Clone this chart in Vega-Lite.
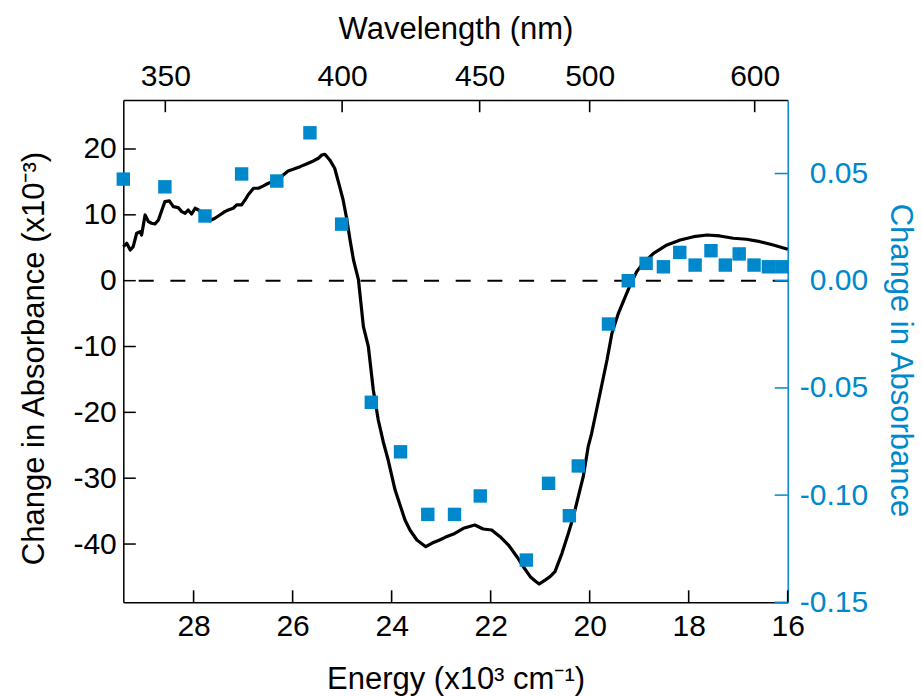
{
  "$schema": "https://vega.github.io/schema/vega-lite/v6.json",
  "width": 664.4,
  "height": 502.3,
  "autosize": {"type": "none"},
  "padding": {"left": 123.3, "top": 100, "right": 134.3, "bottom": 93.7},
  "background": "white",
  "config": {
    "view": {"stroke": null},
    "font": "Liberation Sans",
    "axis": {
      "labelFont": "Liberation Sans",
      "titleFont": "Liberation Sans",
      "labelFontSize": 30,
      "titleFontSize": 31,
      "titleFontWeight": "normal",
      "grid": false,
      "ticks": false,
      "domainWidth": 1.5,
      "labelColor": "black",
      "titleColor": "black",
      "domainColor": "black",
      "labelFlush": false,
      "labelOverlap": false
    }
  },
  "datasets": {
    "spectrum": [
      {"E": 29.42, "dA": 5.16}, {"E": 29.35, "dA": 5.68}, {"E": 29.28, "dA": 4.66}, {"E": 29.22, "dA": 5.16},
      {"E": 29.15, "dA": 7.2}, {"E": 29.08, "dA": 7.44}, {"E": 29.05, "dA": 6.94}, {"E": 28.98, "dA": 9.98},
      {"E": 28.91, "dA": 8.96}, {"E": 28.85, "dA": 8.72}, {"E": 28.78, "dA": 8.61}, {"E": 28.71, "dA": 9.22},
      {"E": 28.64, "dA": 10.74}, {"E": 28.58, "dA": 12.0}, {"E": 28.49, "dA": 12.11}, {"E": 28.41, "dA": 11.24},
      {"E": 28.31, "dA": 11.09}, {"E": 28.24, "dA": 10.48}, {"E": 28.17, "dA": 10.24}, {"E": 28.11, "dA": 10.74},
      {"E": 28.04, "dA": 10.13}, {"E": 27.97, "dA": 11.0}, {"E": 27.9, "dA": 10.74}, {"E": 27.8, "dA": 9.98},
      {"E": 27.67, "dA": 9.11}, {"E": 27.57, "dA": 9.48}, {"E": 27.47, "dA": 9.98}, {"E": 27.37, "dA": 10.48},
      {"E": 27.3, "dA": 10.74}, {"E": 27.2, "dA": 11.0}, {"E": 27.13, "dA": 11.5}, {"E": 27.03, "dA": 11.5},
      {"E": 26.96, "dA": 12.26}, {"E": 26.9, "dA": 13.02}, {"E": 26.79, "dA": 14.04}, {"E": 26.69, "dA": 14.04},
      {"E": 26.59, "dA": 14.39}, {"E": 26.49, "dA": 14.8}, {"E": 26.39, "dA": 15.04}, {"E": 26.29, "dA": 15.3},
      {"E": 26.19, "dA": 16.06}, {"E": 26.09, "dA": 16.66}, {"E": 25.99, "dA": 16.92}, {"E": 25.85, "dA": 17.32},
      {"E": 25.72, "dA": 17.73}, {"E": 25.58, "dA": 18.18}, {"E": 25.48, "dA": 18.59}, {"E": 25.41, "dA": 19.09},
      {"E": 25.35, "dA": 19.2}, {"E": 25.31, "dA": 18.87}, {"E": 25.25, "dA": 18.34}, {"E": 25.15, "dA": 17.07},
      {"E": 25.05, "dA": 14.28}, {"E": 24.98, "dA": 12.26}, {"E": 24.91, "dA": 9.52}, {"E": 24.84, "dA": 6.18},
      {"E": 24.77, "dA": 3.14}, {"E": 24.67, "dA": 0.11}, {"E": 24.57, "dA": -6.99}, {"E": 24.47, "dA": -10.03},
      {"E": 24.37, "dA": -16.6}, {"E": 24.27, "dA": -21.16}, {"E": 24.17, "dA": -24.46}, {"E": 24.07, "dA": -27.24},
      {"E": 23.93, "dA": -31.8}, {"E": 23.83, "dA": -34.07}, {"E": 23.73, "dA": -36.35}, {"E": 23.63, "dA": -37.87},
      {"E": 23.49, "dA": -39.39}, {"E": 23.31, "dA": -40.41}, {"E": 23.18, "dA": -39.85}, {"E": 23.03, "dA": -39.39},
      {"E": 22.92, "dA": -38.98}, {"E": 22.75, "dA": -38.48}, {"E": 22.55, "dA": -37.61}, {"E": 22.32, "dA": -37.11},
      {"E": 22.15, "dA": -37.72}, {"E": 21.98, "dA": -37.87}, {"E": 21.81, "dA": -38.89}, {"E": 21.64, "dA": -40.15},
      {"E": 21.47, "dA": -41.93}, {"E": 21.34, "dA": -43.45}, {"E": 21.2, "dA": -44.96}, {"E": 21.1, "dA": -45.62},
      {"E": 21.02, "dA": -46.07}, {"E": 20.9, "dA": -45.47}, {"E": 20.8, "dA": -44.96}, {"E": 20.7, "dA": -44.2},
      {"E": 20.56, "dA": -41.41}, {"E": 20.43, "dA": -38.37}, {"E": 20.33, "dA": -35.85}, {"E": 20.23, "dA": -32.81},
      {"E": 20.13, "dA": -29.77}, {"E": 20.03, "dA": -25.22}, {"E": 19.96, "dA": -23.18}, {"E": 19.79, "dA": -17.1},
      {"E": 19.65, "dA": -12.05}, {"E": 19.55, "dA": -7.99}, {"E": 19.42, "dA": -4.95}, {"E": 19.28, "dA": -2.43},
      {"E": 19.18, "dA": -0.65}, {"E": 19.05, "dA": 1.37}, {"E": 18.92, "dA": 2.64}, {"E": 18.71, "dA": 4.16},
      {"E": 18.44, "dA": 5.42}, {"E": 18.17, "dA": 6.18}, {"E": 17.9, "dA": 6.68}, {"E": 17.63, "dA": 6.94},
      {"E": 17.37, "dA": 6.79}, {"E": 17.1, "dA": 6.44}, {"E": 16.83, "dA": 6.29}, {"E": 16.56, "dA": 5.92},
      {"E": 16.29, "dA": 5.42}, {"E": 16.0, "dA": 4.77}
    ],
    "points": [
      {"E": 29.42, "dA": 0.0474}, {"E": 28.58, "dA": 0.0438}, {"E": 27.77, "dA": 0.0302}, {"E": 27.03, "dA": 0.0498},
      {"E": 26.32, "dA": 0.0465}, {"E": 25.65, "dA": 0.069}, {"E": 25.01, "dA": 0.0264}, {"E": 24.41, "dA": -0.0567},
      {"E": 23.82, "dA": -0.0798}, {"E": 23.27, "dA": -0.109}, {"E": 22.73, "dA": -0.109}, {"E": 22.21, "dA": -0.1004},
      {"E": 21.28, "dA": -0.1303}, {"E": 20.83, "dA": -0.0945}, {"E": 20.41, "dA": -0.1096}, {"E": 20.23, "dA": -0.0864},
      {"E": 19.62, "dA": -0.0202}, {"E": 19.22, "dA": 0.0}, {"E": 18.86, "dA": 0.0081}, {"E": 18.51, "dA": 0.0065},
      {"E": 18.18, "dA": 0.0132}, {"E": 17.87, "dA": 0.0073}, {"E": 17.55, "dA": 0.014}, {"E": 17.26, "dA": 0.0073},
      {"E": 16.98, "dA": 0.0125}, {"E": 16.68, "dA": 0.0073}, {"E": 16.39, "dA": 0.0065}, {"E": 16.12, "dA": 0.0065}
    ],
    "energyTicks": [{"E": 28}, {"E": 26}, {"E": 24}, {"E": 22}, {"E": 20}, {"E": 18}, {"E": 16}],
    "leftTicks": [{"dA": -40}, {"dA": -30}, {"dA": -20}, {"dA": -10}, {"dA": 0}, {"dA": 10}, {"dA": 20}],
    "wavelengthTicks": [{"nm": 350, "E": 28.5714}, {"nm": 400, "E": 25}, {"nm": 450, "E": 22.2222}, {"nm": 500, "E": 20}, {"nm": 600, "E": 16.6667}],
    "rightTicks": [{"dA": -0.15}, {"dA": -0.1}, {"dA": -0.05}, {"dA": 0}, {"dA": 0.05}]
  },
  "layer": [
    {
      "layer": [
        {
          "data": {"values": [{"baseline": 0}]},
          "mark": {"type": "rule", "color": "black", "strokeWidth": 2, "strokeDash": [15, 16.7]},
          "encoding": {
            "y": {
              "field": "baseline", "type": "quantitative",
              "scale": {"domain": [-48.85, 27.44], "nice": false, "zero": false},
              "axis": {
                "orient": "left",
                "values": [-40, -30, -20, -10, 0, 10, 20],
                "labelExpr": "(datum.value < 0 ? '-' : '') + format(abs(datum.value), 'd')",
                "labelPadding": 7,
                "title": "Change in Absorbance (x10⁻³)",
                "titleAngle": -90,
                "titleX": -80,
                "titleY": 258,
                "titleBaseline": "alphabetic"
              }
            }
          }
        },
        {
          "data": {"name": "spectrum"},
          "mark": {"type": "line", "color": "black", "strokeWidth": 3.2, "strokeJoin": "round", "interpolate": "linear"},
          "encoding": {
            "x": {
              "field": "E", "type": "quantitative",
              "scale": {"domain": [16, 29.42], "reverse": true, "nice": false, "zero": false},
              "axis": {
                "orient": "bottom",
                "values": [28, 26, 24, 22, 20, 18, 16],
                "labelPadding": 9,
                "title": "Energy (x10³ cm⁻¹)",
                "titleY": 86,
                "titleBaseline": "alphabetic"
              }
            },
            "y": {
              "field": "dA", "type": "quantitative",
              "scale": {"domain": [-48.85, 27.44], "nice": false, "zero": false},
              "axis": {
                "orient": "left",
                "values": [-40, -30, -20, -10, 0, 10, 20],
                "labelExpr": "(datum.value < 0 ? '-' : '') + format(abs(datum.value), 'd')",
                "labelPadding": 7,
                "title": "Change in Absorbance (x10⁻³)",
                "titleAngle": -90,
                "titleX": -80,
                "titleY": 258,
                "titleBaseline": "alphabetic"
              }
            }
          }
        },
        {
          "data": {"name": "energyTicks"},
          "mark": {"type": "rule", "strokeWidth": 1.6, "color": "black"},
          "encoding": {
            "x": {
              "field": "E", "type": "quantitative",
              "scale": {"domain": [16, 29.42], "reverse": true, "nice": false, "zero": false},
              "axis": {
                "orient": "bottom",
                "values": [28, 26, 24, 22, 20, 18, 16],
                "labelPadding": 9,
                "title": "Energy (x10³ cm⁻¹)",
                "titleY": 86,
                "titleBaseline": "alphabetic"
              }
            },
            "y": {
              "datum": -48.85, "type": "quantitative",
              "scale": {"domain": [-48.85, 27.44], "nice": false, "zero": false},
              "axis": {
                "orient": "left",
                "values": [-40, -30, -20, -10, 0, 10, 20],
                "labelExpr": "(datum.value < 0 ? '-' : '') + format(abs(datum.value), 'd')",
                "labelPadding": 7,
                "title": "Change in Absorbance (x10⁻³)",
                "titleAngle": -90,
                "titleX": -80,
                "titleY": 258,
                "titleBaseline": "alphabetic"
              }
            },
            "y2": {"datum": -47.03}
          }
        },
        {
          "data": {"name": "leftTicks"},
          "mark": {"type": "tick", "orient": "horizontal", "size": 12.5, "thickness": 1.5, "color": "black", "opacity": 1, "xOffset": 6.25},
          "encoding": {
            "x": {
              "datum": 29.42, "type": "quantitative",
              "scale": {"domain": [16, 29.42], "reverse": true, "nice": false, "zero": false},
              "axis": {
                "orient": "bottom",
                "values": [28, 26, 24, 22, 20, 18, 16],
                "labelPadding": 9,
                "title": "Energy (x10³ cm⁻¹)",
                "titleY": 86,
                "titleBaseline": "alphabetic"
              }
            },
            "y": {
              "field": "dA", "type": "quantitative",
              "scale": {"domain": [-48.85, 27.44], "nice": false, "zero": false},
              "axis": {
                "orient": "left",
                "values": [-40, -30, -20, -10, 0, 10, 20],
                "labelExpr": "(datum.value < 0 ? '-' : '') + format(abs(datum.value), 'd')",
                "labelPadding": 7,
                "title": "Change in Absorbance (x10⁻³)",
                "titleAngle": -90,
                "titleX": -80,
                "titleY": 258,
                "titleBaseline": "alphabetic"
              }
            }
          }
        }
      ]
    },
    {
      "layer": [
        {
          "data": {"name": "points"},
          "mark": {"type": "square", "size": 180, "color": "#0088cc", "opacity": 1, "filled": true},
          "encoding": {
            "x": {
              "field": "E", "type": "quantitative",
              "scale": {"domain": [16, 29.42], "reverse": true, "nice": false, "zero": false},
              "axis": {
                "orient": "top",
                "values": [28.5714, 25, 22.2222, 20, 16.6667],
                "labelExpr": "format(10000 / datum.value, '.0f')",
                "labelPadding": 9,
                "title": "Wavelength (nm)",
                "titleY": -62,
                "titleBaseline": "alphabetic"
              }
            },
            "y": {
              "field": "dA", "type": "quantitative",
              "scale": {"domain": [-0.15, 0.0843], "nice": false, "zero": false},
              "axis": {
                "orient": "right",
                "values": [-0.15, -0.1, -0.05, 0, 0.05],
                "labelExpr": "(datum.value < 0 ? '-' : '') + format(abs(datum.value), '.2f')",
                "labelAlign": "right",
                "labelPadding": 80,
                "labelColor": "#0088cc",
                "domainColor": "#0088cc",
                "titleColor": "#0088cc",
                "title": "Change in Absorbance",
                "titleAngle": 90,
                "titleX": 103,
                "titleY": 260,
                "titleBaseline": "alphabetic"
              }
            }
          }
        },
        {
          "data": {"name": "wavelengthTicks"},
          "mark": {"type": "rule", "strokeWidth": 1.6, "color": "black"},
          "encoding": {
            "x": {
              "field": "E", "type": "quantitative",
              "scale": {"domain": [16, 29.42], "reverse": true, "nice": false, "zero": false},
              "axis": {
                "orient": "top",
                "values": [28.5714, 25, 22.2222, 20, 16.6667],
                "labelExpr": "format(10000 / datum.value, '.0f')",
                "labelPadding": 9,
                "title": "Wavelength (nm)",
                "titleY": -62,
                "titleBaseline": "alphabetic"
              }
            },
            "y": {
              "datum": 0.0843, "type": "quantitative",
              "scale": {"domain": [-0.15, 0.0843], "nice": false, "zero": false},
              "axis": {
                "orient": "right",
                "values": [-0.15, -0.1, -0.05, 0, 0.05],
                "labelExpr": "(datum.value < 0 ? '-' : '') + format(abs(datum.value), '.2f')",
                "labelAlign": "right",
                "labelPadding": 80,
                "labelColor": "#0088cc",
                "domainColor": "#0088cc",
                "titleColor": "#0088cc",
                "title": "Change in Absorbance",
                "titleAngle": 90,
                "titleX": 103,
                "titleY": 260,
                "titleBaseline": "alphabetic"
              }
            },
            "y2": {"datum": 0.0786}
          }
        },
        {
          "data": {"name": "rightTicks"},
          "mark": {"type": "tick", "orient": "horizontal", "size": 13, "thickness": 1.5, "color": "#0088cc", "opacity": 1, "xOffset": -6.5},
          "encoding": {
            "x": {
              "datum": 16, "type": "quantitative",
              "scale": {"domain": [16, 29.42], "reverse": true, "nice": false, "zero": false},
              "axis": {
                "orient": "top",
                "values": [28.5714, 25, 22.2222, 20, 16.6667],
                "labelExpr": "format(10000 / datum.value, '.0f')",
                "labelPadding": 9,
                "title": "Wavelength (nm)",
                "titleY": -62,
                "titleBaseline": "alphabetic"
              }
            },
            "y": {
              "field": "dA", "type": "quantitative",
              "scale": {"domain": [-0.15, 0.0843], "nice": false, "zero": false},
              "axis": {
                "orient": "right",
                "values": [-0.15, -0.1, -0.05, 0, 0.05],
                "labelExpr": "(datum.value < 0 ? '-' : '') + format(abs(datum.value), '.2f')",
                "labelAlign": "right",
                "labelPadding": 80,
                "labelColor": "#0088cc",
                "domainColor": "#0088cc",
                "titleColor": "#0088cc",
                "title": "Change in Absorbance",
                "titleAngle": 90,
                "titleX": 103,
                "titleY": 260,
                "titleBaseline": "alphabetic"
              }
            }
          }
        }
      ]
    }
  ],
  "resolve": {"scale": {"x": "independent", "y": "independent"}}
}
